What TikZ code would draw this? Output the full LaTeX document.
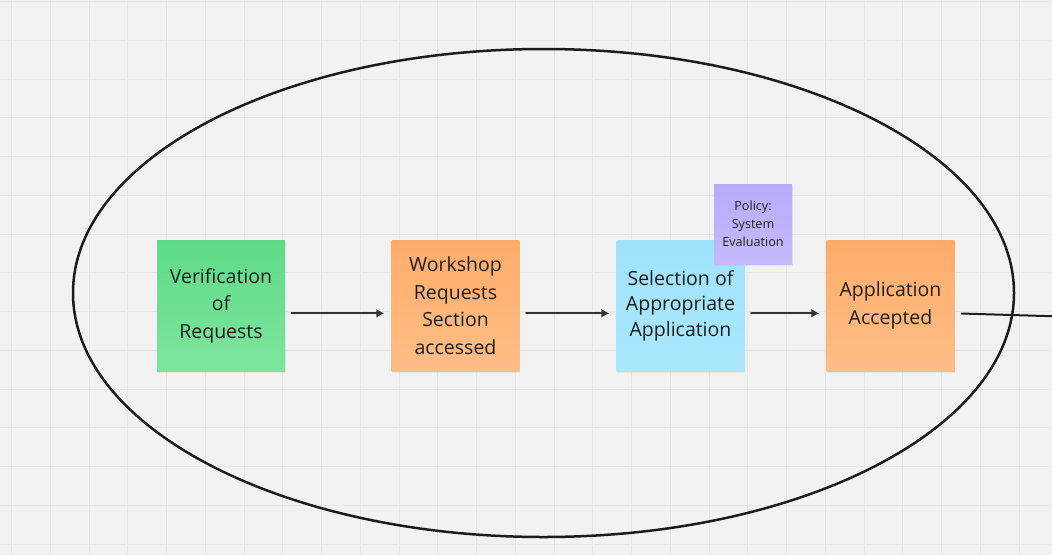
\documentclass[tikz,border=0pt]{standalone}
\usepackage{fontspec}
\setmainfont{Open Sans}
\usetikzlibrary{arrows.meta,shadows}

\definecolor{boardbg}{HTML}{F2F2F2}
\definecolor{gridcol}{HTML}{E6E6E6}
\definecolor{inkcol}{HTML}{1C1C1C}
\definecolor{arrowcol}{HTML}{333333}

\begin{document}
\begin{tikzpicture}[x=1pt, y=-1pt, line cap=round, line join=round,
  note/.style={minimum width=128pt, minimum height=131pt, inner sep=0pt,
    align=center, text=inkcol, font=\fontsize{19.5}{27.5}\selectfont,
    drop shadow={shadow xshift=0.5pt, shadow yshift=-2pt, opacity=0.10}},
  smallnote/.style={note, minimum width=78pt, minimum height=80pt,
    font=\fontsize{12.6}{18}\selectfont},
  flow/.style={draw=arrowcol, line width=2pt, shorten <=6.5pt, shorten >=7pt,
    -{Latex[length=8pt,width=9pt]}},
  link/.style={draw=inkcol, line width=2pt, shorten <=7pt}]
  % --- Nền bảng ---
  \useasboundingbox (0,0) rectangle (1052,555);
  \fill[boardbg] (0,0) rectangle (1052,555);
  \foreach \gx in {0,...,26} \draw[gridcol, line width=1pt] ({11.5+38.75*\gx},0) -- ++(0,555);
  \foreach \gy in {0,...,14} \draw[gridcol, line width=1pt] (0,{1.7+38.75*\gy}) -- ++(1052,0);

  % --- Vòng bao quanh ---
  \draw[inkcol, line width=2.5pt] (543.5,293) ellipse [x radius=470.5pt, y radius=244pt];

  % --- Các ghi chú ---
  \node[note, top color={rgb,255:red,95;green,219;blue,136}, bottom color={rgb,255:red,125;green,229;blue,157}]
        (verif) at (221,305.5) {Verification\\of\\Requests};
  \node[note, top color={rgb,255:red,255;green,172;blue,106}, bottom color={rgb,255:red,255;green,190;blue,134}]
        (wsreq) at (455.5,305.5) {Workshop\\Requests\\Section\\accessed};
  \node[note, font=\fontsize{19.5}{25.5}\selectfont,
        top color={rgb,255:red,158;green,227;blue,251}, bottom color={rgb,255:red,170;green,232;blue,253}]
        (select) at (680.5,305.5) {Selection of\\Appropriate\\Application};
  \node[note, top color={rgb,255:red,255;green,172;blue,106}, bottom color={rgb,255:red,255;green,190;blue,134}]
        (accept) at (890.5,305.5) {Application\\Accepted};
  % ghi chú chính sách (đè lên ghi chú xanh)
  \node[smallnote, top color={rgb,255:red,184;green,170;blue,249}, bottom color={rgb,255:red,198;green,186;blue,252}]
        (policy) at (753,224) {Policy:\\System\\Evaluation};

  % --- Mũi tên ---
  \coordinate (exit) at (1058,316.4);
  \draw[flow] ([yshift=-7.8pt]verif.east) -- ([yshift=-7.8pt]wsreq.west);
  \draw[flow] ([yshift=-7.8pt]wsreq.east) -- ([yshift=-7.8pt]select.west);
  \draw[flow] ([yshift=-7.8pt]select.east) -- ([yshift=-7.8pt]accept.west);
  \draw[link] ([yshift=-7.8pt]accept.east) -- (exit);
\end{tikzpicture}
\end{document}
